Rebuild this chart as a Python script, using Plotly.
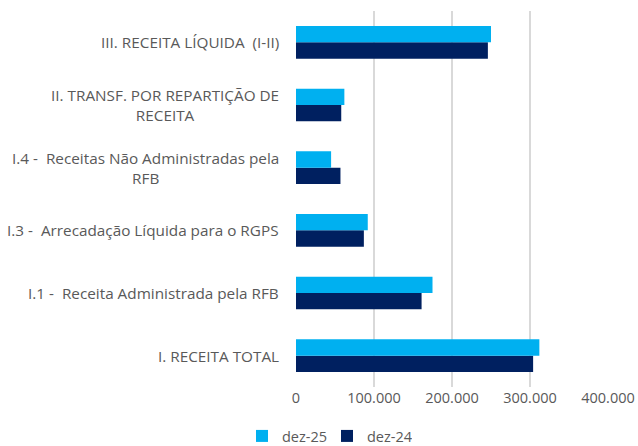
import plotly.graph_objects as go

categories = [
    "I. RECEITA TOTAL",
    "I.1 -  Receita Administrada pela RFB",
    "I.3 -  Arrecadação Líquida para o RGPS",
    "I.4 -  Receitas Não Administradas pela<br>RFB",
    "II. TRANSF. POR REPARTIÇÃO DE<br>RECEITA",
    "III. RECEITA LÍQUIDA  (I-II)",
]
dez25 = [312000, 175000, 92000, 45000, 62000, 250000]
dez24 = [304000, 161000, 87000, 57000, 58000, 246000]
xticks = [0, 100000, 200000, 300000, 400000]
xticklabels = ["0", "100.000", "200.000", "300.000", "400.000"]

FONT = "Open Sans"
GREY = "#595959"

fig = go.Figure()
fig.add_trace(go.Bar(y=categories, x=dez24, name="dez-24", orientation="h",
                     marker=dict(color="#002060", line=dict(width=0))))
fig.add_trace(go.Bar(y=categories, x=dez25, name="dez-25", orientation="h",
                     marker=dict(color="#00B0F0", line=dict(width=0))))

for c in categories:
    fig.add_annotation(x=0, xref="paper", xanchor="right", xshift=-15,
                       y=c, yref="y", text=c.replace("  ", " \u00a0"),
                       showarrow=False, align="center",
                       font=dict(family=FONT, size=15.3, color=GREY))

fig.update_layout(
    width=638, height=446,
    margin=dict(l=296, r=30, t=11, b=59, autoexpand=False),
    barmode="group", bargap=0.48, bargroupgap=0,
    plot_bgcolor="white", paper_bgcolor="white",
    font=dict(family=FONT, size=14.5, color=GREY),
    xaxis=dict(range=[0, 400000], tickvals=xticks, ticktext=xticklabels,
               showgrid=True, gridcolor="#D9D9D9", gridwidth=1.5,
               zeroline=False, showline=False, ticks="", automargin=False,
               tickfont=dict(family=FONT, size=14.5, color=GREY)),
    yaxis=dict(categoryorder="array", categoryarray=categories,
               showticklabels=False, showgrid=False, zeroline=False,
               showline=False, ticks="", automargin=False),
    legend=dict(orientation="h", xref="container", yref="container",
                x=242 / 638, xanchor="left", y=10 / 446, yanchor="middle",
                traceorder="reversed",
                font=dict(family=FONT, size=14.5, color=GREY),
                itemwidth=30, tracegroupgap=0,
                entrywidth=40, entrywidthmode="pixels"),
    showlegend=True,
)

fig.write_html("out.html", config={"displayModeBar": False},
               post_script="document.body.style.margin='0';")
